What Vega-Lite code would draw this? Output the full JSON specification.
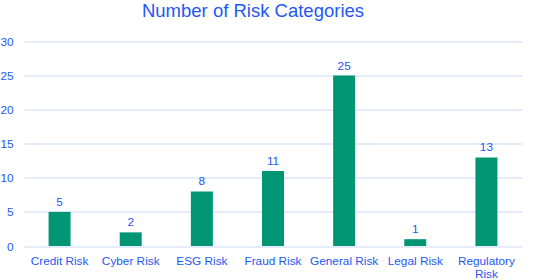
{
  "$schema": "https://vega.github.io/schema/vega-lite/v6.json",
  "width": 498,
  "height": 204.5,
  "autosize": {"type": "none"},
  "padding": {"left": 24, "top": 41.5, "right": 12, "bottom": 34},
  "background": "white",
  "title": {
    "text": "Number of Risk Categories",
    "font": "Liberation Sans",
    "fontSize": 18.5,
    "fontWeight": "normal",
    "color": "#2458f5",
    "anchor": "middle",
    "dx": -20,
    "offset": 16.5
  },
  "data": {
    "values": [
      {"category": "Credit Risk", "count": 5},
      {"category": "Cyber Risk", "count": 2},
      {"category": "ESG Risk", "count": 8},
      {"category": "Fraud Risk", "count": 11},
      {"category": "General Risk", "count": 25},
      {"category": "Legal Risk", "count": 1},
      {"category": "Regulatory Risk", "count": 13}
    ]
  },
  "config": {
    "view": {"stroke": null},
    "font": "Liberation Sans"
  },
  "encoding": {
    "x": {
      "field": "category",
      "type": "nominal",
      "sort": null,
      "scale": {"paddingInner": 0, "paddingOuter": 0},
      "axis": {
        "title": null,
        "labelAngle": 0,
        "labelFont": "Liberation Sans",
        "labelFontSize": 11.8,
        "labelColor": "#2458f5",
        "labelPadding": 9,
        "labelLimit": 0,
        "ticks": false,
        "domain": false,
        "labelExpr": "datum.label == 'Regulatory Risk' ? ['Regulatory', 'Risk'] : datum.label"
      }
    },
    "y": {
      "field": "count",
      "type": "quantitative",
      "scale": {"domain": [0, 30]},
      "axis": {
        "title": null,
        "values": [0, 5, 10, 15, 20, 25, 30],
        "labelFont": "Liberation Sans",
        "labelFontSize": 11.8,
        "labelColor": "#2458f5",
        "labelPadding": 11,
        "ticks": false,
        "domain": false,
        "gridColor": "#c9d8f7",
        "gridWidth": 1.2
      }
    }
  },
  "layer": [
    {
      "mark": {"type": "bar", "color": "#009673", "size": 22}
    },
    {
      "mark": {
        "type": "text",
        "dy": -10,
        "fontSize": 11.8,
        "font": "Liberation Sans",
        "color": "#2458f5"
      },
      "encoding": {"text": {"field": "count", "type": "quantitative"}}
    }
  ]
}
